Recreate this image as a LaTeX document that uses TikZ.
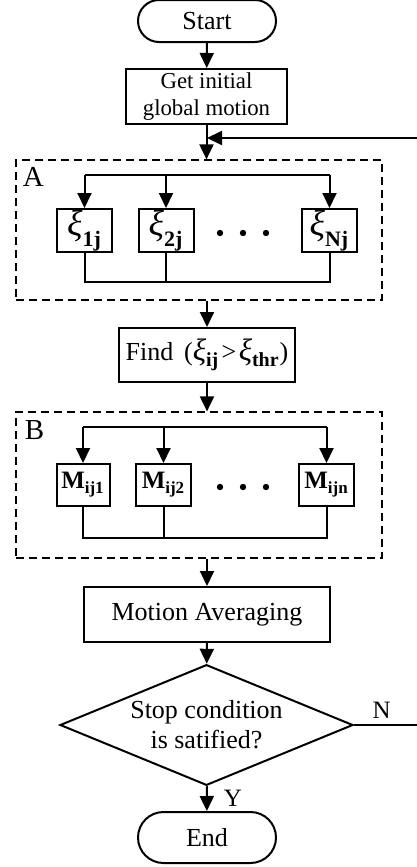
\documentclass[tikz,border=0pt]{standalone}
\usepackage{fontspec}
\setmainfont{Liberation Serif}
\usetikzlibrary{arrows.meta,positioning,shapes.geometric,shapes.misc}

\newcommand{\fsz}[1]{\fontsize{#1pt}{1.15\dimexpr#1pt\relax}\selectfont}
\newcommand{\xisub}[1]{\raisebox{1.5pt}{\fsz{18}\itshape ξ}\textsubscript{\fsz{11}\bfseries #1}}
\newcommand{\msub}[1]{{\fsz{12.5}\bfseries M}\textsubscript{\fsz{8.5}\bfseries #1}}

\begin{document}
\begin{tikzpicture}[x=0.5pt, y=-0.5pt, >={Triangle[length=7.5pt,width=7pt]}, line width=1pt,
    term/.style={draw, rounded rectangle, inner sep=0pt, font=\fsz{13}},
    procbox/.style={draw, rectangle, align=center, inner sep=0pt},
    subbox/.style={draw, rectangle, inner sep=0pt, minimum width=27.5pt, minimum height=21.5pt},
    frame/.style={draw, dashed, line width=0.6pt, dash pattern=on 4pt off 2.5pt, inner sep=0pt},
    decision/.style={draw, diamond, align=center, inner sep=-10pt, font=\fsz{13}}]
    \useasboundingbox (0,0) rectangle (417,867);
    % main column
    \node[term, minimum width=69pt, minimum height=21pt] (start) at (207,21) {Start};
    \node[procbox, minimum width=80.5pt, minimum height=27.5pt, font=\fsz{11.4}] (init) at (206.5,96.5) {Get initial\\global motion};
    \coordinate (join) at (207,138);
    % block A
    \node[frame, minimum width=183pt, minimum height=70pt] (boxA) at (199,230) {};
    \node[font=\fsz{14.5}, anchor=north west, inner sep=0pt] (labA) at (22,166) {A};
    \node[subbox] (xi1) at (84.5,230.5) {\xisub{1j}};
    \node[subbox] (xi2) at (166,230.5) {\xisub{2j}};
    \node[subbox] (xiN) at (329.5,230.5) {\xisub{Nj}};
    \coordinate (dotsA) at (243,233);
    \coordinate (topA) at (207,175);
    \coordinate (botA) at (207,282);
    \node[procbox, minimum width=88pt, minimum height=27pt, font=\fsz{13}] (find) at (207,355) {Find\ \,({\fsz{15.5}\itshape ξ}\textsubscript{\fsz{10}\bfseries ij}\kern1.2pt>\kern1.2pt{\fsz{15.5}\itshape ξ}\textsubscript{\fsz{10}\bfseries thr})};
    % block B
    \node[frame, minimum width=183pt, minimum height=73pt] (boxB) at (199,485) {};
    \node[font=\fsz{14.5}, anchor=north west, inner sep=0pt] (labB) at (24,420) {B};
    \node[subbox, minimum width=26.5pt, minimum height=21pt] (m1) at (83,485) {\msub{ij1}};
    \node[subbox, minimum width=27.5pt, minimum height=21pt] (m2) at (163.5,485) {\msub{ij2}};
    \node[subbox, minimum width=27.5pt, minimum height=21pt] (mN) at (326.5,485) {\msub{ijn}};
    \coordinate (dotsB) at (243,487);
    \coordinate (topB) at (207,427);
    \coordinate (botB) at (207,538);
    \node[procbox, minimum width=123pt, minimum height=27.5pt, font=\fsz{13}] (avg) at (207,614.5) {Motion Averaging};
    \node[decision, minimum width=146.5pt, minimum height=57.5pt] (stop) at (206.5,725) {Stop condition\\is satified?};
    \node[term, minimum width=69pt, minimum height=25.5pt] (end) at (207,837.5) {End};
    \coordinate (fbR) at (425,725);

    % arrows
    \draw[->] (start) -- (init);
    \draw[->] (init) -- (boxA.north -| init);
    \draw[->] (boxA.south -| find) -- (find);
    \draw[->] (find) -- (boxB.north -| find);
    \draw[->] (boxB.south -| avg) -- (avg);
    \draw[->] (avg) -- (stop);
    \draw[->] (stop) -- node[right, font=\fsz{12.5}, inner sep=8pt] (ylab) {Y} (end);
    \draw[->] (stop.east) -- (fbR) node[pos=0.39, above, font=\fsz{12.5}, inner sep=3pt] (nlab) {N} |- (join);

    % fan out / fan in A
    \draw (xi1.north |- topA) -- (xiN.north |- topA);
    \foreach \n in {xi1,xi2,xiN}
      \draw[->] (\n.north |- topA) -- (\n.north);
    \draw (xi1.south) -- (xi1.south |- botA) -- (xiN.south |- botA) -- (xiN.south);
    \draw (xi2.south) -- (xi2.south |- botA);
    \foreach \dx in {-23,0,23}
      \fill ([xshift=\dx*0.5pt]dotsA) circle (1.6pt);

    % fan out / fan in B
    \draw (m1.north |- topB) -- (mN.north |- topB);
    \foreach \n in {m1,m2,mN}
      \draw[->] (\n.north |- topB) -- (\n.north);
    \draw (m1.south) -- (m1.south |- botB) -- (mN.south |- botB) -- (mN.south);
    \draw (m2.south) -- (m2.south |- botB);
    \foreach \dx in {-23,0,23}
      \fill ([xshift=\dx*0.5pt]dotsB) circle (1.6pt);
\end{tikzpicture}
\end{document}
